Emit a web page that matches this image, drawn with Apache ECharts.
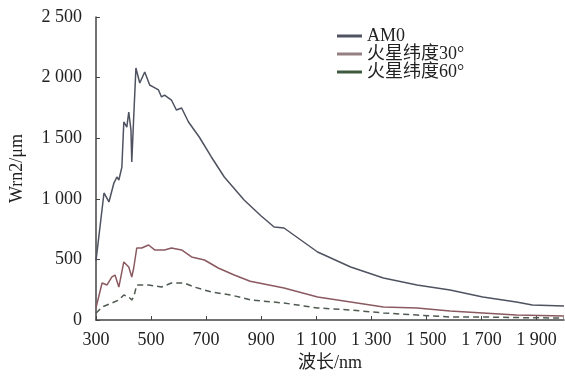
<!DOCTYPE html>
<html>
<head>
<meta charset="utf-8">
<script src="https://cdn.jsdelivr.net/npm/echarts@6/dist/echarts.min.js"></script>
<style>
  html, body { margin: 0; padding: 0; background: #fff; }
  #chart { width: 565px; height: 379px; }
</style>
</head>
<body>
<div id="chart"></div>
<script>
// wavelength (nm) / irradiance pairs
const am0 = [
    [300, 490], [329, 1048], [347, 974], [365, 1130], [376, 1180], [383, 1155],
    [394, 1262], [401, 1634], [412, 1592], [419, 1716], [427, 1568], [430, 1304],
    [437, 1675], [445, 2079], [459, 1955], [477, 2046], [495, 1939], [509, 1922],
    [527, 1898], [538, 1840], [549, 1856], [574, 1815], [592, 1733], [611, 1749],
    [636, 1634], [675, 1510], [719, 1345], [766, 1180], [838, 990], [899, 860],
    [947, 767], [983, 759], [1044, 660], [1105, 561], [1225, 437], [1344, 346],
    [1466, 289], [1586, 248], [1705, 190], [1827, 149], [1885, 124], [2000, 116]
];
const mars30 = [
    [300, 100], [322, 305], [340, 289], [358, 355], [369, 371], [383, 272],
    [401, 479], [419, 437], [430, 355], [437, 429], [448, 594], [466, 594],
    [491, 619], [513, 578], [549, 578], [574, 594], [611, 578], [647, 520],
    [694, 495], [744, 429], [802, 371], [860, 320], [983, 264], [1105, 190],
    [1225, 149], [1344, 107], [1466, 99], [1586, 74], [1705, 58], [1827, 41],
    [2000, 33]
];
const mars60 = [
    [300, 55], [322, 107], [358, 140], [383, 165], [401, 206], [419, 190],
    [430, 165], [437, 190], [448, 289], [491, 289], [538, 272], [574, 305],
    [621, 305], [657, 272], [719, 231], [791, 206], [863, 165], [983, 140],
    [1105, 99], [1225, 82], [1344, 58], [1466, 41], [1586, 25], [1705, 25],
    [1827, 20], [2000, 16]
];
const seriesNames = ['AM0', '火星纬度30°', '火星纬度60°'];

const fontFam = '"Liberation Serif", "Noto Sans CJK SC", serif';

function spaced(v) {
    return String(v).replace(/\B(?=(\d{3})+(?!\d))/g, ' ');
}

const myChart = echarts.init(document.getElementById('chart'));
const option = {
    animation: false,
    grid: { left: 94, top: 17, right: 1, bottom: 59 },
    legend: {
        orient: 'vertical',
        left: 332,
        top: 22,
        itemGap: 0,
        itemWidth: 25,
        itemHeight: 3,
        icon: 'rect',
        textStyle: { fontFamily: fontFam, fontSize: 18, color: '#222', lineHeight: 18 },
        data: seriesNames
    },
    xAxis: {
        type: 'value',
        min: 300,
        max: 2000,
        interval: 200,
        name: '波长/nm',
        nameLocation: 'middle',
        nameGap: 31,
        nameTextStyle: { fontFamily: fontFam, fontSize: 18, color: '#222' },
        axisLine: { lineStyle: { color: '#444', width: 1.5 } },
        axisTick: { inside: true, length: 4, lineStyle: { color: '#444' } },
        splitLine: { show: false },
        axisLabel: {
            showMaxLabel: false,
            fontFamily: fontFam,
            fontSize: 18,
            color: '#222',
            margin: 11,
            formatter: spaced
        }
    },
    yAxis: {
        type: 'value',
        min: 0,
        max: 2500,
        interval: 500,
        name: 'Wrn2/μm',
        nameLocation: 'middle',
        nameGap: 70,
        nameTextStyle: { fontFamily: fontFam, fontSize: 18, color: '#222' },
        axisLine: { show: true, lineStyle: { color: '#444', width: 1.5 } },
        axisTick: { show: true, inside: true, length: 4, lineStyle: { color: '#444' } },
        splitLine: { show: false },
        axisLabel: {
            fontFamily: fontFam,
            fontSize: 18,
            color: '#222',
            margin: 14,
            formatter: spaced
        }
    },
    series: [
        {
            name: seriesNames[0],
            type: 'line',
            data: am0,
            symbol: 'none',
            lineStyle: { color: '#4f5260', width: 1.5 },
            itemStyle: { color: '#4f5260' }
        },
        {
            name: seriesNames[1],
            type: 'line',
            data: mars30,
            symbol: 'none',
            lineStyle: { color: '#8a5a60', width: 1.5 },
            itemStyle: { color: '#957f82' }
        },
        {
            name: seriesNames[2],
            type: 'line',
            data: mars60,
            symbol: 'none',
            lineStyle: { color: '#4f5a50', width: 1.5, type: [6, 4] },
            itemStyle: { color: '#3e5a40' }
        }
    ]
};
myChart.setOption(option);
</script>
</body>
</html>
